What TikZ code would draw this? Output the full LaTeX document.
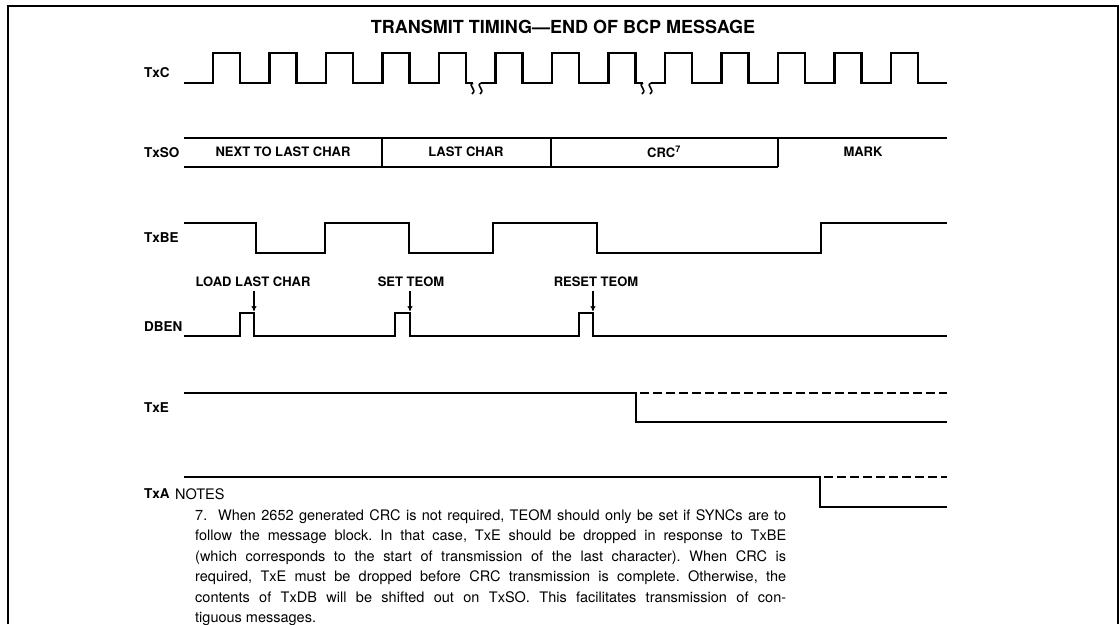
\documentclass[tikz,border=0pt]{standalone}
\usepackage{fontspec}
\setmainfont{TeX Gyre Heros}
\usetikzlibrary{arrows.meta}
\frenchspacing

\begin{document}
\begin{tikzpicture}[x=1pt,y=-1pt,
    wave/.style={line width=2.4pt},
    bus/.style={line width=2.2pt},
    sig/.style={anchor=west,inner sep=0,font=\fontsize{13.5}{15}\selectfont\bfseries},
    lbl/.style={inner sep=0,font=\fontsize{13}{15}\selectfont\bfseries},
    brk/.style={line width=1.6pt},
    pointer/.style={-{To[length=5pt,width=5pt]},line width=1.1pt}]
    \useasboundingbox (0,0) rectangle (1119,624);
    \draw[line width=1.3pt] (8,624) -- (8,6) -- (1118,6) -- (1118,624);

    \node[inner sep=0,font=\fontsize{18}{20}\selectfont\bfseries] (title) at (563,27) {TRANSMIT TIMING---END OF BCP MESSAGE};

    \node[sig] (txc) at (144,73) {TxC};
    \draw[wave] (184,83) \foreach \r in {213,269.5,326,382.5,439} {-- (\r,83) -- (\r,53) -- (\r+27,53) -- (\r+27,83)} -- (473,83);
    \draw[wave] (481,83) \foreach \r in {495.5,552,608.5} {-- (\r,83) -- (\r,53) -- (\r+27,53) -- (\r+27,83)} -- (643,83);
    \draw[wave] (651,83) \foreach \r in {665,721.5,778,834.5,891} {-- (\r,83) -- (\r,53) -- (\r+27,53) -- (\r+27,83)} -- (947,83);
    \foreach \b in {473,481,643,651}
        \draw[brk] (\b,83) .. controls (\b-6,86) and (\b+5,89) .. (\b-1,94);

    \node[sig] (txso) at (144,153) {TxSO};
    \draw[bus] (184,138) -- (947,138);
    \draw[bus] (184,167) -- (778,167);
    \draw[bus] (382,138) -- (382,167);
    \draw[bus] (551,138) -- (551,167);
    \draw[bus] (778,138) -- (778,167);
    \node[lbl] (nextchar) at (283,152) {NEXT TO LAST CHAR};
    \node[lbl] (lastchar) at (466,152) {LAST CHAR};
    \node[lbl] (crc) at (664,152) {CRC\textsuperscript{7}};
    \node[lbl] (markbit) at (863,152) {MARK};

    \node[sig] (txbe) at (144,238) {TxBE};
    \draw[wave] (184,223) -- (256,223) -- (256,253) -- (325,253) -- (325,223) -- (409,223) -- (409,253)
        -- (493,253) -- (493,223) -- (597,223) -- (597,253) -- (821,253) -- (821,223) -- (947,223);

    \node[sig] (dben) at (144,327) {DBEN};
    \draw[wave] (184,336) -- (240,336) -- (240,313) -- (254,313) -- (254,336) -- (395,336) -- (395,313) -- (410,313)
        -- (410,336) -- (579,336) -- (579,313) -- (593,313) -- (593,336) -- (947,336);
    \node[lbl] (loadlast) at (253,282) {LOAD LAST CHAR};
    \node[lbl] (setteom) at (411,282) {SET TEOM};
    \node[lbl] (resetteom) at (596,282) {RESET TEOM};
    \coordinate (pload) at (254,311);
    \coordinate (pset) at (410,311);
    \coordinate (preset) at (593,311);
    \draw[pointer] (pload |- loadlast.south) ++(0,4) -- (pload);
    \draw[pointer] (pset |- setteom.south) ++(0,4) -- (pset);
    \draw[pointer] (preset |- resetteom.south) ++(0,4) -- (preset);

    \node[sig] (txe) at (144,408) {TxE};
    \draw[wave] (184,393) -- (636,393) -- (636,422) -- (947,422);
    \draw[wave,dash pattern=on 9pt off 4pt] (640,393) -- (947,393);

    \node[sig] (txa) at (144,494) {TxA};
    \draw[wave] (184,477) -- (820,477) -- (820,507) -- (947,507);
    \draw[wave,dash pattern=on 9pt off 4pt] (824,477) -- (947,477);

    \node[anchor=west,inner sep=0,font=\fontsize{14.5}{16}\selectfont] (notes) at (175,494) {NOTES};
    \node[anchor=north west,inner sep=0,text width=591pt,align=justify,font=\fontsize{14.5}{20.5}\selectfont] (note) at (195,509)
        {7.\ \ When 2652 generated CRC is not required, TEOM should only be set if SYNCs are to\linebreak
        follow the message block. In that case, TxE should be dropped in response to TxBE\linebreak
        (which corresponds to the start of transmission of the last character). When CRC is\linebreak
        required, TxE must be dropped before CRC transmission is complete. Otherwise, the\linebreak
        contents of TxDB will be shifted out on TxSO. This facilitates transmission of con-\linebreak
        tiguous messages.\par};
\end{tikzpicture}
\end{document}
